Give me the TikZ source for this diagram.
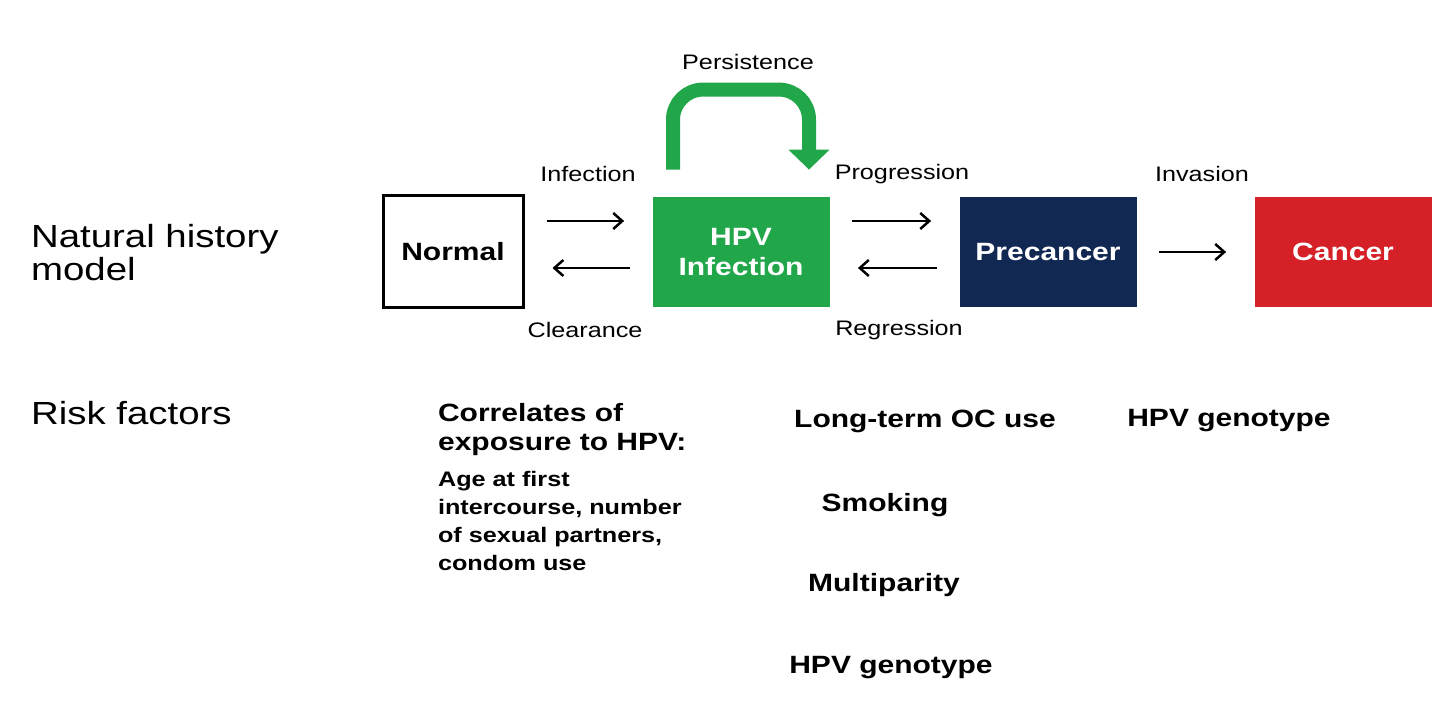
\documentclass[tikz,border=0pt]{standalone}
\usepackage{fontspec}
\setmainfont{Liberation Sans}[FakeStretch=1.2]
\usepackage{tikz}
\usetikzlibrary{arrows.meta, positioning}
\definecolor{hpvgreen}{RGB}{33,166,74}
\definecolor{precancerblue}{RGB}{16,40,82}
\definecolor{cancerred}{RGB}{212,32,38}
\tikzstyle{state} = [rectangle, minimum width=88.5pt, minimum height=55pt, text centered, align=center, text=white, font=\bfseries\fontsize{12.5}{15}\selectfont]
\tikzstyle{transition} = [font=\fontsize{10.5}{12}\selectfont]

\begin{document}
\begin{tikzpicture}[x=0.5pt, y=-0.5pt, >={Straight Barb[length=4.5pt,width=8pt]}]
        \tikzstyle{flow} = [->, line width=1.25pt, shorten <=11pt, shorten >=14pt]
        \tikzstyle{heading} = [anchor=west, align=left, font=\fontsize{16}{16.5}\selectfont]
        \tikzstyle{risk} = [font=\bfseries\fontsize{12.5}{14.5}\selectfont]
        \useasboundingbox (0,0) rectangle (1454,726);

        \node[heading] (modelLabel) at (24,253) {Natural history\\model};
        \node[heading] (riskLabel) at (24,413) {Risk factors};

        \node[state, draw=black, line width=1.5pt, text=black, minimum width=70pt, minimum height=56pt] (normal) at (453,252) {Normal};
        \node[state, fill=hpvgreen] (hpv) at (741,252) {HPV\\Infection};
        \node[state, fill=precancerblue] (precancer) at (1048,252) {Precancer};
        \node[state, fill=cancerred] (cancer) at (1343,252) {Cancer};

        \draw[flow] ([yshift=15.5pt]normal.east) -- ([yshift=15.5pt]normal.east-|hpv.west);
        \draw[flow] ([yshift=-8pt]hpv.west) -- ([yshift=-8pt]hpv.west-|normal.east);
        \draw[flow] ([yshift=15.5pt]hpv.east) -- ([yshift=15.5pt]hpv.east-|precancer.west);
        \draw[flow] ([yshift=-8pt]precancer.west) -- ([yshift=-8pt]precancer.west-|hpv.east);
        \draw[flow] (precancer.east) -- (cancer.west);

        \node[transition] (infection) at (588,174) {Infection};
        \node[transition] (clearance) at (585,330) {Clearance};
        \node[transition] (progression) at (902,174) {Progression};
        \node[transition] (regression) at (899,330) {Regression};
        \node[transition] (invasion) at (1202,174) {Invasion};
        \node[transition] (persistence) at (748,62) {Persistence};

        % persistence loop over the infection box
        \coordinate (persStart) at ([xshift=-34pt, yshift=13.5pt]hpv.north);
        \coordinate (persEnd) at ([xshift=34pt, yshift=13.5pt]hpv.north);
        \draw[hpvgreen, line width=7pt, rounded corners=15pt, -{Triangle[width=20pt,length=10pt]}] (persStart) -- ++(0,-80) -| (persEnd);

        \node[risk, anchor=north west, align=left] (corrTitle) at (431,396) {Correlates of\\exposure to HPV:};
        \node[align=left, font=\bfseries\fontsize{10.5}{14}\selectfont, below=1pt of corrTitle.south west, anchor=north west] (corrList) {Age at first\\intercourse, number\\of sexual partners,\\condom use};
        \node[risk] (ocUse) at (925,421) {Long-term OC use};
        \node[risk] (smoking) at (885,505) {Smoking};
        \node[risk] (multiparity) at (884,585) {Multiparity};
        \node[risk] (genotypeA) at (891,668) {HPV genotype};
        \node[risk] (genotypeB) at (1229,421) {HPV genotype};

    \end{tikzpicture}
\end{document}
